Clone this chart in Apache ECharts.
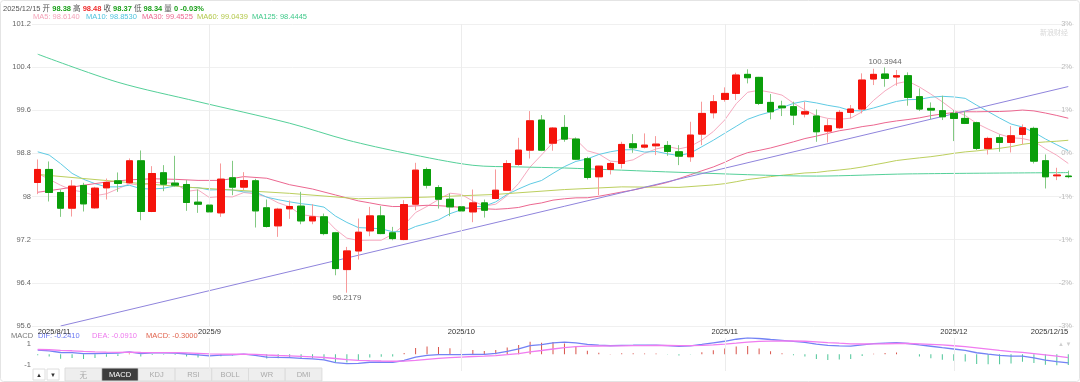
<!DOCTYPE html>
<html><head><meta charset="utf-8">
<script src="https://cdn.jsdelivr.net/npm/echarts@6/dist/echarts.min.js"></script>
<style>html,body{margin:0;padding:0;background:#fff;}#c{width:1080px;height:382px;}</style>
</head><body><div id="c"></div>
<script>
const dates = ["2025/8/11","2025/8/12","2025/8/13","2025/8/14","2025/8/15","2025/8/18","2025/8/19","2025/8/20","2025/8/21","2025/8/22","2025/8/25","2025/8/26","2025/8/27","2025/8/28","2025/8/29",
"2025/9/1","2025/9/2","2025/9/3","2025/9/4","2025/9/5","2025/9/8","2025/9/9","2025/9/10","2025/9/11","2025/9/12","2025/9/15","2025/9/16","2025/9/17","2025/9/18","2025/9/19","2025/9/22","2025/9/23","2025/9/24","2025/9/25","2025/9/26","2025/9/29","2025/9/30",
"2025/10/1","2025/10/2","2025/10/3","2025/10/6","2025/10/7","2025/10/8","2025/10/9","2025/10/10","2025/10/13","2025/10/14","2025/10/15","2025/10/16","2025/10/17","2025/10/20","2025/10/21","2025/10/22","2025/10/23","2025/10/24","2025/10/27","2025/10/28","2025/10/29","2025/10/30","2025/10/31",
"2025/11/3","2025/11/4","2025/11/5","2025/11/6","2025/11/7","2025/11/10","2025/11/11","2025/11/12","2025/11/13","2025/11/14","2025/11/17","2025/11/18","2025/11/19","2025/11/20","2025/11/21","2025/11/24","2025/11/25","2025/11/26","2025/11/27","2025/11/28",
"2025/12/1","2025/12/2","2025/12/3","2025/12/4","2025/12/5","2025/12/8","2025/12/9","2025/12/10","2025/12/11","2025/12/12","2025/12/15"];

const opens = [98.261,98.503,98.076,97.785,98.206,97.791,98.162,98.292,98.255,98.663,97.723,98.441,98.249,98.224,97.896,
97.841,97.698,98.348,98.175,98.292,97.791,97.457,97.773,97.822,97.549,97.624,97.327,96.646,96.992,97.364,97.642,97.327,97.203,97.859,98.502,98.168,97.951,
97.809,97.716,97.883,97.964,98.118,98.595,98.861,99.418,98.990,99.282,99.066,98.701,98.367,98.503,98.614,98.979,98.917,98.942,98.948,98.830,98.738,99.158,99.554,
99.802,99.913,100.266,100.210,99.746,99.678,99.666,99.530,99.493,99.214,99.276,99.561,99.623,100.180,100.272,100.217,100.241,99.852,99.635,99.592,
99.542,99.449,99.369,98.893,99.091,99.004,99.152,99.264,98.664,98.385,98.38];
const highs = [98.688,98.651,98.131,98.305,98.255,98.181,98.335,98.447,98.707,98.855,98.564,98.583,98.756,98.305,98.131,
97.884,98.614,98.663,98.453,98.329,97.946,97.791,97.927,98.088,97.859,97.685,97.345,97.067,97.593,97.809,97.822,97.438,97.933,98.626,98.539,98.211,98.057,
97.933,98.131,97.945,98.502,98.675,99.090,99.585,99.511,99.290,99.511,99.097,98.738,98.570,98.639,99.016,99.158,99.171,99.121,99.029,98.954,99.387,99.759,99.882,
100.025,100.297,100.360,100.220,99.901,99.777,99.759,99.759,99.616,99.437,99.604,99.697,100.285,100.370,100.3944,100.347,100.303,100.006,99.746,99.870,
99.604,99.586,99.388,99.109,99.152,99.307,99.338,99.295,98.781,98.534,98.48];
const lows = [98.045,97.909,97.624,97.630,97.723,97.773,97.946,98.088,98.237,97.562,97.711,98.100,98.181,97.735,97.698,
97.531,97.624,98.026,98.119,97.426,97.426,97.253,97.587,97.487,97.487,97.283,96.541,96.2179,96.832,97.265,97.302,97.190,97.190,97.747,98.150,97.778,97.636,
97.469,97.525,97.611,97.951,98.106,98.570,98.706,98.842,98.850,99.016,98.676,98.317,98.026,98.410,98.521,98.812,98.892,98.769,98.756,98.583,98.645,98.954,99.449,
99.759,99.790,100.099,99.697,99.431,99.493,99.326,99.468,99.016,99.004,99.252,99.449,99.542,100.068,100.037,100.056,99.685,99.586,99.437,99.419,
99.029,99.344,98.862,98.781,98.831,98.818,98.967,98.614,98.150,98.305,98.34];
const closes = [98.503,98.076,97.785,98.193,97.865,98.156,98.261,98.243,98.663,97.723,98.428,98.230,98.212,97.890,97.859,
97.717,98.323,98.175,98.298,97.735,97.445,97.766,97.816,97.549,97.624,97.314,96.665,96.992,97.339,97.642,97.314,97.221,97.852,98.490,98.211,97.951,97.809,
97.735,97.883,97.747,98.118,98.613,98.861,99.405,98.861,99.270,99.066,98.694,98.354,98.564,98.614,98.967,98.905,98.954,98.973,98.837,98.750,99.140,99.542,99.759,
99.913,100.254,100.204,99.728,99.573,99.647,99.511,99.573,99.202,99.313,99.561,99.623,100.161,100.266,100.192,100.241,99.839,99.623,99.604,99.480,
99.449,99.357,98.893,99.078,99.004,99.128,99.276,98.657,98.367,98.400,98.37];
const volume = 0;

const ma5Lead  = [98.43, 98.32, 98.21, 98.12];
const ma10Lead = [98.83, 98.77, 98.61, 98.43, 98.32, 98.24, 98.18, 98.18, 98.21];
const ma30Read  = [[0,98.08],[2,98.14],[4,98.21],[6,98.27],[8,98.31],[10,98.33],[12,98.32],[14,98.30],[16,98.30],[18,98.37],[20,98.34],[22,98.22],[24,98.14],[26,98.03],[28,97.92]];
const ma60Read  = [[0,98.41],[8,98.26],[14,98.16],[22,98.06],[28,97.96],[34,97.99],[40,98.04],[46,98.13],[51,98.18],[56,98.17]];
const ma125Read = [[0,100.64],[7,100.12],[14,99.76],[22,99.36],[27,99.05],[32,98.81],[38,98.58],[42,98.55],[46,98.53],[56,98.45],[68,98.38],[76,98.42],[90,98.4445]];
// MACD state just before the first visible day
const macdSeed = {ema12: 98.25, ema26: 98.14, dea: 0.14};
// hand-drawn trend line: [day index, value] at its two ends
const trendLine = [[2, 95.6], [90, 100.04]];

const yLeftMin = 95.6, yLeftMax = 101.2, yStep = 0.8;
const rightLabels = ['-3%','-2%','-1%','-1%','0%','1%','2%','3%'];
const monthLabelIdx = {"2025/8/11":"2025/8/11","2025/9/1":"2025/9","2025/10/1":"2025/10","2025/11/3":"2025/11","2025/12/1":"2025/12","2025/12/15":"2025/12/15"};
const macdRange = [-0.47, 0.46];
const macdTickLabels = [['1', 343.5], ['-1', 365]];
const tabs = ['无','MACD','KDJ','RSI','BOLL','WR','DMI'];

const C = {up:'#f5130b', down:'#0a9e0a', upWick:'#f79a9a', downWick:'#82c982',
  ma5:'#f6a9bf', ma10:'#5fcbe4', ma30:'#ec6790', ma60:'#bccf5e', ma125:'#55d099', trend:'#8f84dc',
  dif:'#7382f5', dea:'#f07cf0', macdTxt:'#e0634d', grid:'#f0f0f0'};

function sparse(list){ const a = new Array(closes.length).fill(null); list.forEach(([i,v])=>a[i]=v); return a; }
function ma(n, lead){ return closes.map((c,i)=>{ if(i>=n-1){ let s=0; for(let k=i-n+1;k<=i;k++) s+=closes[k]; return +(s/n).toFixed(4);} return lead[i]==null?null:lead[i]; }); }
const ma5 = ma(5, ma5Lead), ma10 = ma(10, ma10Lead), ma30 = ma(30, sparse(ma30Read));
const ma60 = ma(60, sparse(ma60Read));
const ma125 = sparse(ma125Read);

let e12 = macdSeed.ema12, e26 = macdSeed.ema26, dea = macdSeed.dea;
const difs=[], deas=[], hist=[];
closes.forEach(c=>{ e12 = e12*11/13 + c*2/13; e26 = e26*25/27 + c*2/27; const d = e12-e26; dea = dea*0.8 + d*0.2; difs.push(+d.toFixed(4)); deas.push(+dea.toFixed(4)); hist.push(+(2*(d-dea)).toFixed(4)); });

const N = closes.length, last = N-1;
const kdata = closes.map((c,i)=>[opens[i], c, lows[i], highs[i]]);
const bodies = closes.map((c,i)=>[opens[i], c, Math.min(opens[i],c), Math.max(opens[i],c)]);
let hiI=0, loI=0; highs.forEach((h,i)=>{ if(h>highs[hiI]) hiI=i; }); lows.forEach((l,i)=>{ if(l<lows[loI]) loI=i; });
const trendData = sparse(trendLine);
const monthLines = Object.keys(monthLabelIdx).filter(d=>d!==dates[0] && d!==dates[last]).map(d=>({xAxis:d}));

const FONT = '"Liberation Sans", Arial, "Noto Sans CJK SC", sans-serif';
const FS = 7.5;
const chg = ((closes[last]-closes[last-1])/closes[last-1]*100).toFixed(2)+'%';
const lineS = (name, data, color, extra) => Object.assign({name, type:'line', data, symbol:'none', connectNulls:true, smooth:false, lineStyle:{color, width:1}, itemStyle:{color}, silent:true, z:3}, extra||{});
const txt = (x, y, text, fill, extra) => ({type:'text', x, y, silent:true, style:Object.assign({text, fill, font:FS+'px '+FONT, textVerticalAlign:'middle'}, extra||{})});

const maHeads = [['MA5', ma5, '#f4a3b9', 33], ['MA10', ma10, '#4fc3de', 86], ['MA30', ma30, '#ec6790', 142], ['MA60', ma60, '#b3c84a', 197], ['MA125', ma125, '#3fc98a', 252]];

const chart = echarts.init(document.getElementById('c'), null, {renderer:'canvas'});
chart.setOption({
  animation:false,
  backgroundColor:'#fff',
  textStyle:{fontFamily:FONT},
  grid:[{left:32, right:6, top:24, height:302}, {left:32, right:6, top:338, height:33}],
  xAxis:[
    {type:'category', data:dates, gridIndex:0, boundaryGap:true, axisLine:{show:false}, axisTick:{show:false}, splitLine:{show:false},
     axisLabel:{show:true, color:'#333', fontSize:FS, margin:2, interval:(i,v)=>monthLabelIdx[v]!==undefined, formatter:v=>monthLabelIdx[v]||'', alignMinLabel:'left', alignMaxLabel:'right', showMinLabel:true, showMaxLabel:true}},
    {type:'category', data:dates, gridIndex:1, boundaryGap:true, axisLine:{show:false}, axisTick:{show:false}, axisLabel:{show:false}, splitLine:{show:false}}
  ],
  yAxis:[
    {type:'value', gridIndex:0, min:yLeftMin, max:yLeftMax, interval:yStep, position:'left', axisLine:{show:false}, axisTick:{show:false},
     axisLabel:{color:'#666', fontSize:FS, margin:1, formatter:v=>String(+v.toFixed(1))}, splitLine:{lineStyle:{color:C.grid, width:1}}},
    {type:'value', gridIndex:0, min:yLeftMin, max:yLeftMax, interval:yStep, position:'right', axisLine:{show:false}, axisTick:{show:false},
     axisLabel:{inside:true, color:'#bbb', fontSize:FS, margin:2, formatter:v=>rightLabels[Math.round((v-yLeftMin)/yStep)]}, splitLine:{show:false}},
    {type:'value', gridIndex:1, min:macdRange[0], max:macdRange[1], axisLine:{show:false}, axisTick:{show:false}, axisLabel:{show:false}, splitLine:{show:false}}
  ],
  series:[
    {type:'line', data:[], xAxisIndex:0, yAxisIndex:0, silent:true,
     markLine:{silent:true, symbol:'none', label:{show:false}, lineStyle:{color:'#ececec', type:'solid', width:1}, data:monthLines}},
    {type:'line', data:[], xAxisIndex:1, yAxisIndex:2, silent:true,
     markLine:{silent:true, symbol:'none', label:{show:false}, lineStyle:{color:'#ececec', type:'solid', width:1}, data:monthLines}},
    {name:'wick', type:'candlestick', data:kdata, barWidth:7, silent:true, z:4,
     itemStyle:{color:C.up, color0:C.down, borderColor:C.upWick, borderColor0:C.downWick, borderWidth:1}},
    {name:'body', type:'candlestick', data:bodies, barWidth:7, silent:true, z:5,
     itemStyle:{color:C.up, color0:C.down, borderColor:C.up, borderColor0:C.down, borderWidth:1}},
    lineS('MA5', ma5, C.ma5),
    lineS('MA10', ma10, C.ma10),
    lineS('MA30', ma30, C.ma30),
    lineS('MA60', ma60, C.ma60),
    lineS('MA125', ma125, C.ma125, {smooth:0.3}),
    lineS('trend', trendData, C.trend),
    {type:'scatter', data:[[hiI, highs[hiI]]], symbolSize:0, silent:true, z:6,
     label:{show:true, position:'top', distance:2, color:'#444', fontSize:FS+0.5, formatter:()=>String(highs[hiI])}},
    {type:'scatter', data:[[loI, lows[loI]]], symbolSize:0, silent:true, z:6,
     label:{show:true, position:'bottom', distance:1, color:'#444', fontSize:FS+0.5, formatter:()=>String(lows[loI])}},
    {type:'bar', data:hist.map(v=>({value:v, itemStyle:{color: v>=0 ? '#d9534a' : '#4cc597'}})), xAxisIndex:1, yAxisIndex:2, barWidth:1, silent:true},
    lineS('DIF', difs, C.dif, {xAxisIndex:1, yAxisIndex:2, lineStyle:{color:C.dif, width:1.3}}),
    lineS('DEA', deas, C.dea, {xAxisIndex:1, yAxisIndex:2, lineStyle:{color:C.dea, width:1.3}})
  ],
  graphic:[
    {type:'rect', silent:true, z:-1, shape:{x:0.5, y:0.5, width:1079, height:381, r:3}, style:{fill:'none', stroke:'#e4e4e4'}},
    {type:'text', x:3, y:9, silent:true, style:{textVerticalAlign:'middle', rich:{
        g:{fill:'#555', fontSize:FS, fontFamily:FONT}, u:{fill:'#1aa01a', fontSize:FS, fontFamily:FONT, fontWeight:'bold'}, r:{fill:'#ef2d2d', fontSize:FS, fontFamily:FONT, fontWeight:'bold'}},
      text:`{g|${dates[last]} 开 }{u|${opens[last].toFixed(2)}}{g| 高 }{r|${highs[last].toFixed(2)}}{g| 收 }{u|${closes[last].toFixed(2)}}{g| 低 }{u|${lows[last].toFixed(2)}}{g| 量 }{u|${volume}}{u| ${chg}}`}},
    ...maHeads.map(([n, arr, col, x]) => txt(x, 17, `${n}: ${arr[last].toFixed(4)}`, col)),
    txt(11, 336, 'MACD', '#777'),
    txt(38, 336, `DIF: ${difs[last].toFixed(4)}`, '#6a78f3'),
    txt(92, 336, `DEA: ${deas[last].toFixed(4)}`, '#ee78ee'),
    txt(146, 336, `MACD: ${hist[last].toFixed(4)}`, C.macdTxt),
    ...macdTickLabels.map(([t, y]) => txt(31, y, t, '#666', {textAlign:'right'})),
    {type:'text', x:1040, y:29, silent:true, style:{text:'新浪财经', fill:'#d8d8d8', font:'7px "Noto Sans CJK SC"'}},
    {type:'text', x:1058, y:341, silent:true, style:{text:'▲ ▼', fill:'#cfcfcf', font:'6px '+FONT}},
    // indicator tab bar
    {type:'rect', silent:true, shape:{x:33,y:369,width:12,height:11}, style:{fill:'#fff', stroke:'#dedede'}},
    txt(39, 375, '▲', '#333', {font:'6px '+FONT, textAlign:'center'}),
    {type:'rect', silent:true, shape:{x:47,y:369,width:12,height:11}, style:{fill:'#fff', stroke:'#dedede'}},
    txt(53, 375, '▼', '#333', {font:'6px '+FONT, textAlign:'center'}),
    ...tabs.flatMap((t,k)=>{
      const x = 65 + k*36.7, sel = t==='MACD';
      return [{type:'rect', silent:true, shape:{x, y:368, width:36.7, height:13}, style:{fill: sel?'#3d3d3d':'#eeeeee', stroke:'#dcdcdc'}},
              txt(x+18.3, 375, t, sel?'#fff':'#aaa', {textAlign:'center', font:FS+'px '+(t==='无'?'"Noto Sans CJK SC"':FONT)})];
    })
  ]
});
</script></body></html>
